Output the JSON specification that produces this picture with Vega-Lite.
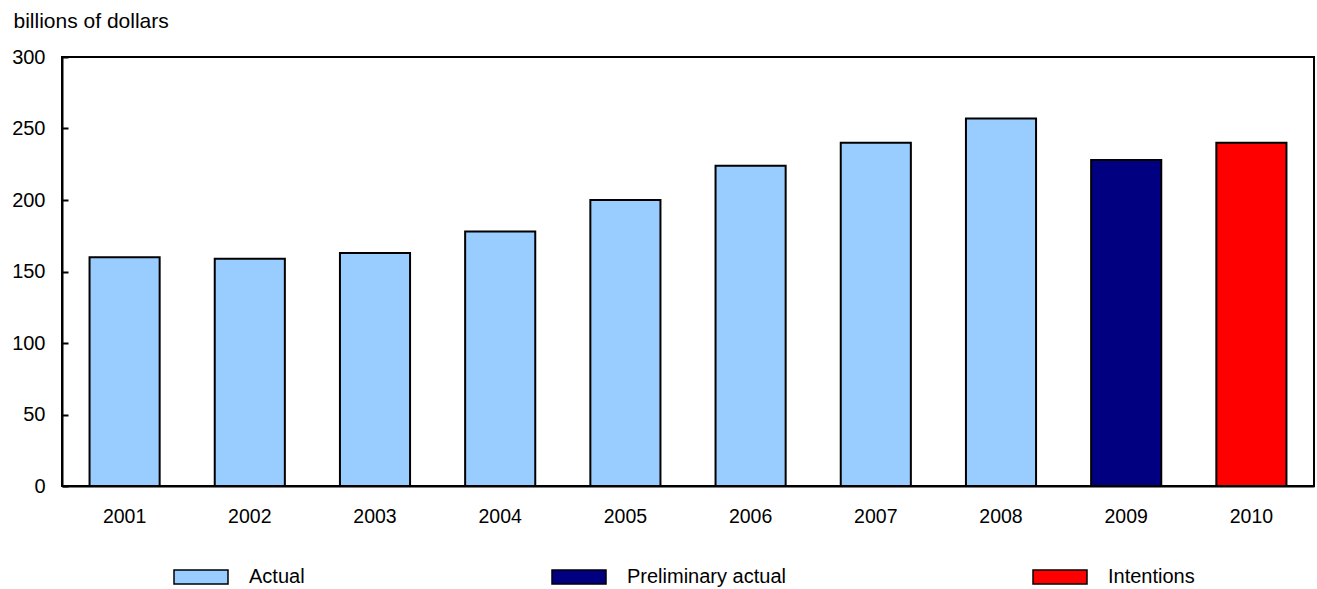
{
  "$schema": "https://vega.github.io/schema/vega-lite/v6.json",
  "width": 1252,
  "height": 429,
  "autosize": "none",
  "padding": {"left": 62, "top": 57, "right": 3, "bottom": 103},
  "background": "white",
  "config": {
    "font": "Liberation Sans",
    "view": {"stroke": "black", "strokeWidth": 2}
  },
  "data": {
    "values": [
      {"year": "2001", "value": 160, "type": "Actual"},
      {"year": "2002", "value": 159, "type": "Actual"},
      {"year": "2003", "value": 163, "type": "Actual"},
      {"year": "2004", "value": 178, "type": "Actual"},
      {"year": "2005", "value": 200, "type": "Actual"},
      {"year": "2006", "value": 224, "type": "Actual"},
      {"year": "2007", "value": 240, "type": "Actual"},
      {"year": "2008", "value": 257, "type": "Actual"},
      {"year": "2009", "value": 228, "type": "Preliminary actual"},
      {"year": "2010", "value": 240, "type": "Intentions"}
    ]
  },
  "mark": {"type": "bar", "stroke": "black", "strokeWidth": 2},
  "encoding": {
    "x": {
      "field": "year",
      "type": "ordinal",
      "scale": {"paddingInner": 0.44, "paddingOuter": 0.22},
      "axis": {
        "title": null,
        "labelAngle": 0,
        "ticks": false,
        "domainColor": "black",
        "domainWidth": 2,
        "labelFontSize": 19.5,
        "labelColor": "black",
        "labelPadding": 21
      }
    },
    "y": {
      "field": "value",
      "type": "quantitative",
      "scale": {"domain": [0, 300]},
      "axis": {
        "title": "billions of dollars",
        "titleAngle": 0,
        "titleAlign": "left",
        "titleBaseline": "middle",
        "titleX": -49,
        "titleY": -36,
        "titleFontSize": 21,
        "titleFontWeight": "normal",
        "titleColor": "black",
        "values": [0, 50, 100, 150, 200, 250, 300],
        "grid": false,
        "tickSize": -6,
        "tickColor": "black",
        "tickWidth": 2,
        "domainColor": "black",
        "domainWidth": 2,
        "labelFontSize": 20,
        "labelColor": "black",
        "labelPadding": 23
      }
    },
    "color": {
      "field": "type",
      "type": "nominal",
      "scale": {
        "domain": ["Actual", "Preliminary actual", "Intentions"],
        "range": ["#99CCFF", "#000080", "#FF0000"]
      },
      "legend": {
        "title": null,
        "orient": "none",
        "legendX": 111,
        "legendY": 492,
        "direction": "horizontal",
        "columns": 3,
        "gridAlign": "none",
        "columnPadding": 244,
        "symbolType": "M-1,-0.26H1V0.26H-1Z",
        "symbolSize": 2916,
        "symbolStrokeColor": "black",
        "symbolStrokeWidth": 1.5,
        "symbolOpacity": 1,
        "labelFontSize": 20,
        "labelColor": "black",
        "labelOffset": 20
      }
    }
  }
}
